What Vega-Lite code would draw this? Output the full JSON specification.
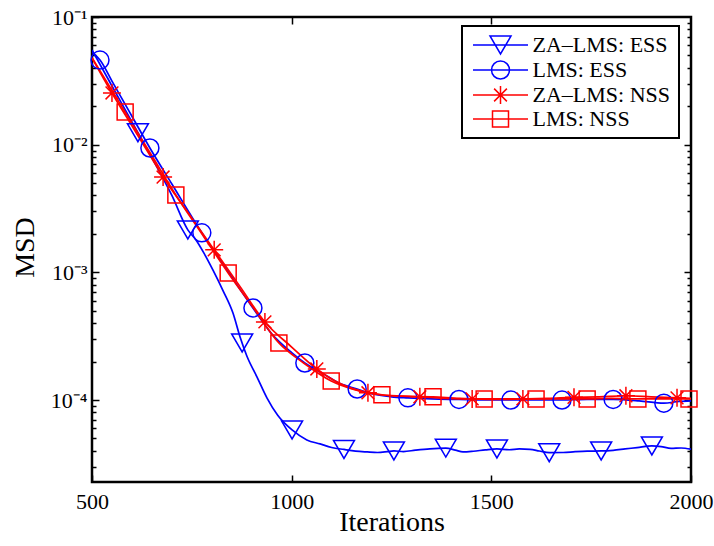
{
  "$schema": "https://vega.github.io/schema/vega-lite/v6.json",
  "width": 599,
  "height": 465,
  "autosize": {"type": "none"},
  "padding": {"left": 92, "top": 17, "right": 23, "bottom": 64},
  "background": "white",
  "config": {
    "font": "Liberation Serif",
    "view": {"stroke": "black", "strokeWidth": 2.5},
    "axis": {"grid": false, "domain": false, "tickColor": "black", "tickWidth": 1.5, "labelColor": "black", "titleColor": "black", "labelFont": "Liberation Serif", "titleFont": "Liberation Serif", "labelFlush": false, "labelOverlap": false, "titleFontWeight": "normal"},
    "legend": {"title": null, "orient": "none", "legendX": 370, "legendY": 9, "labelFontSize": 22, "labelFont": "Liberation Serif", "labelColor": "black", "symbolSize": 400, "symbolStrokeWidth": 1.5, "rowPadding": 1, "padding": 8, "labelOffset": 21, "symbolOffset": 19.5, "strokeColor": "black", "fillColor": "white", "strokeWidth": 2}
  },
  "datasets": {
    "curves": [
      {"s": "ZA–LMS: ESS", "x": 500, "y": 0.0552},
      {"s": "ZA–LMS: ESS", "x": 550, "y": 0.0288},
      {"s": "ZA–LMS: ESS", "x": 600, "y": 0.0151},
      {"s": "ZA–LMS: ESS", "x": 615, "y": 0.0124},
      {"s": "ZA–LMS: ESS", "x": 650, "y": 0.0079},
      {"s": "ZA–LMS: ESS", "x": 700, "y": 0.004},
      {"s": "ZA–LMS: ESS", "x": 740, "y": 0.00215},
      {"s": "ZA–LMS: ESS", "x": 760, "y": 0.0018},
      {"s": "ZA–LMS: ESS", "x": 780, "y": 0.00142},
      {"s": "ZA–LMS: ESS", "x": 803, "y": 0.00104},
      {"s": "ZA–LMS: ESS", "x": 828, "y": 0.00072},
      {"s": "ZA–LMS: ESS", "x": 853, "y": 0.00048},
      {"s": "ZA–LMS: ESS", "x": 871, "y": 0.00031},
      {"s": "ZA–LMS: ESS", "x": 888, "y": 0.00022},
      {"s": "ZA–LMS: ESS", "x": 913, "y": 0.000152},
      {"s": "ZA–LMS: ESS", "x": 938, "y": 0.000104},
      {"s": "ZA–LMS: ESS", "x": 965, "y": 0.000076},
      {"s": "ZA–LMS: ESS", "x": 1001, "y": 0.0000583},
      {"s": "ZA–LMS: ESS", "x": 1038, "y": 0.0000487},
      {"s": "ZA–LMS: ESS", "x": 1071, "y": 0.0000453},
      {"s": "ZA–LMS: ESS", "x": 1100, "y": 0.0000425},
      {"s": "ZA–LMS: ESS", "x": 1131, "y": 0.000041},
      {"s": "ZA–LMS: ESS", "x": 1160, "y": 0.0000398},
      {"s": "ZA–LMS: ESS", "x": 1189, "y": 0.0000392},
      {"s": "ZA–LMS: ESS", "x": 1215, "y": 0.0000388},
      {"s": "ZA–LMS: ESS", "x": 1240, "y": 0.0000394},
      {"s": "ZA–LMS: ESS", "x": 1256, "y": 0.0000399},
      {"s": "ZA–LMS: ESS", "x": 1280, "y": 0.0000395},
      {"s": "ZA–LMS: ESS", "x": 1310, "y": 0.0000405},
      {"s": "ZA–LMS: ESS", "x": 1346, "y": 0.0000415},
      {"s": "ZA–LMS: ESS", "x": 1386, "y": 0.000042},
      {"s": "ZA–LMS: ESS", "x": 1410, "y": 0.0000405},
      {"s": "ZA–LMS: ESS", "x": 1429, "y": 0.0000392},
      {"s": "ZA–LMS: ESS", "x": 1455, "y": 0.0000397},
      {"s": "ZA–LMS: ESS", "x": 1485, "y": 0.0000407},
      {"s": "ZA–LMS: ESS", "x": 1514, "y": 0.0000414},
      {"s": "ZA–LMS: ESS", "x": 1545, "y": 0.0000408},
      {"s": "ZA–LMS: ESS", "x": 1570, "y": 0.0000414},
      {"s": "ZA–LMS: ESS", "x": 1597, "y": 0.0000411},
      {"s": "ZA–LMS: ESS", "x": 1620, "y": 0.0000399},
      {"s": "ZA–LMS: ESS", "x": 1645, "y": 0.0000387},
      {"s": "ZA–LMS: ESS", "x": 1680, "y": 0.0000388},
      {"s": "ZA–LMS: ESS", "x": 1710, "y": 0.0000394},
      {"s": "ZA–LMS: ESS", "x": 1740, "y": 0.0000398},
      {"s": "ZA–LMS: ESS", "x": 1775, "y": 0.0000399},
      {"s": "ZA–LMS: ESS", "x": 1805, "y": 0.0000404},
      {"s": "ZA–LMS: ESS", "x": 1835, "y": 0.0000414},
      {"s": "ZA–LMS: ESS", "x": 1865, "y": 0.0000424},
      {"s": "ZA–LMS: ESS", "x": 1902, "y": 0.0000437},
      {"s": "ZA–LMS: ESS", "x": 1925, "y": 0.0000432},
      {"s": "ZA–LMS: ESS", "x": 1950, "y": 0.0000418},
      {"s": "ZA–LMS: ESS", "x": 1975, "y": 0.0000421},
      {"s": "ZA–LMS: ESS", "x": 2000, "y": 0.0000412},
      {"s": "LMS: ESS", "x": 500, "y": 0.053},
      {"s": "LMS: ESS", "x": 520, "y": 0.046},
      {"s": "LMS: ESS", "x": 550, "y": 0.0315},
      {"s": "LMS: ESS", "x": 600, "y": 0.0167},
      {"s": "LMS: ESS", "x": 645, "y": 0.00942},
      {"s": "LMS: ESS", "x": 700, "y": 0.00492},
      {"s": "LMS: ESS", "x": 775, "y": 0.00204},
      {"s": "LMS: ESS", "x": 850, "y": 0.00092},
      {"s": "LMS: ESS", "x": 903, "y": 0.000526},
      {"s": "LMS: ESS", "x": 950, "y": 0.00033},
      {"s": "LMS: ESS", "x": 1000, "y": 0.000235},
      {"s": "LMS: ESS", "x": 1033, "y": 0.000195},
      {"s": "LMS: ESS", "x": 1080, "y": 0.00016},
      {"s": "LMS: ESS", "x": 1120, "y": 0.000135},
      {"s": "LMS: ESS", "x": 1164, "y": 0.000122},
      {"s": "LMS: ESS", "x": 1200, "y": 0.000112},
      {"s": "LMS: ESS", "x": 1250, "y": 0.000106},
      {"s": "LMS: ESS", "x": 1291, "y": 0.000104},
      {"s": "LMS: ESS", "x": 1350, "y": 0.000102},
      {"s": "LMS: ESS", "x": 1419, "y": 0.000101},
      {"s": "LMS: ESS", "x": 1480, "y": 0.0001},
      {"s": "LMS: ESS", "x": 1549, "y": 0.0001},
      {"s": "LMS: ESS", "x": 1600, "y": 0.0001},
      {"s": "LMS: ESS", "x": 1677, "y": 0.0001},
      {"s": "LMS: ESS", "x": 1740, "y": 0.000101},
      {"s": "LMS: ESS", "x": 1805, "y": 0.000101},
      {"s": "LMS: ESS", "x": 1870, "y": 0.0000985},
      {"s": "LMS: ESS", "x": 1932, "y": 0.0000945},
      {"s": "LMS: ESS", "x": 1970, "y": 0.0000975},
      {"s": "LMS: ESS", "x": 2000, "y": 0.0000985},
      {"s": "ZA–LMS: NSS", "x": 500, "y": 0.0478},
      {"s": "ZA–LMS: NSS", "x": 550, "y": 0.0254},
      {"s": "ZA–LMS: NSS", "x": 600, "y": 0.01406},
      {"s": "ZA–LMS: NSS", "x": 650, "y": 0.00778},
      {"s": "ZA–LMS: NSS", "x": 678, "y": 0.00558},
      {"s": "ZA–LMS: NSS", "x": 740, "y": 0.00295},
      {"s": "ZA–LMS: NSS", "x": 806, "y": 0.0015},
      {"s": "ZA–LMS: NSS", "x": 870, "y": 0.00078},
      {"s": "ZA–LMS: NSS", "x": 933, "y": 0.000409},
      {"s": "ZA–LMS: NSS", "x": 1000, "y": 0.00026},
      {"s": "ZA–LMS: NSS", "x": 1063, "y": 0.000175},
      {"s": "ZA–LMS: NSS", "x": 1120, "y": 0.000135},
      {"s": "ZA–LMS: NSS", "x": 1191, "y": 0.000114},
      {"s": "ZA–LMS: NSS", "x": 1250, "y": 0.000108},
      {"s": "ZA–LMS: NSS", "x": 1321, "y": 0.000106},
      {"s": "ZA–LMS: NSS", "x": 1380, "y": 0.000103},
      {"s": "ZA–LMS: NSS", "x": 1452, "y": 0.000102},
      {"s": "ZA–LMS: NSS", "x": 1520, "y": 0.000101},
      {"s": "ZA–LMS: NSS", "x": 1579, "y": 0.000102},
      {"s": "ZA–LMS: NSS", "x": 1640, "y": 0.000103},
      {"s": "ZA–LMS: NSS", "x": 1707, "y": 0.000105},
      {"s": "ZA–LMS: NSS", "x": 1770, "y": 0.000106},
      {"s": "ZA–LMS: NSS", "x": 1837, "y": 0.000108},
      {"s": "ZA–LMS: NSS", "x": 1900, "y": 0.000106},
      {"s": "ZA–LMS: NSS", "x": 1965, "y": 0.000104},
      {"s": "ZA–LMS: NSS", "x": 2000, "y": 0.000103},
      {"s": "LMS: NSS", "x": 500, "y": 0.048},
      {"s": "LMS: NSS", "x": 550, "y": 0.0266},
      {"s": "LMS: NSS", "x": 583, "y": 0.01803},
      {"s": "LMS: NSS", "x": 650, "y": 0.00819},
      {"s": "LMS: NSS", "x": 710, "y": 0.00404},
      {"s": "LMS: NSS", "x": 780, "y": 0.0019},
      {"s": "LMS: NSS", "x": 841, "y": 0.00099},
      {"s": "LMS: NSS", "x": 900, "y": 0.00055},
      {"s": "LMS: NSS", "x": 968, "y": 0.00028},
      {"s": "LMS: NSS", "x": 1030, "y": 0.000195},
      {"s": "LMS: NSS", "x": 1099, "y": 0.000141},
      {"s": "LMS: NSS", "x": 1160, "y": 0.00012},
      {"s": "LMS: NSS", "x": 1226, "y": 0.00011},
      {"s": "LMS: NSS", "x": 1290, "y": 0.000107},
      {"s": "LMS: NSS", "x": 1354, "y": 0.000106},
      {"s": "LMS: NSS", "x": 1420, "y": 0.000103},
      {"s": "LMS: NSS", "x": 1482, "y": 0.000102},
      {"s": "LMS: NSS", "x": 1550, "y": 0.000102},
      {"s": "LMS: NSS", "x": 1612, "y": 0.000102},
      {"s": "LMS: NSS", "x": 1680, "y": 0.000102},
      {"s": "LMS: NSS", "x": 1740, "y": 0.000102},
      {"s": "LMS: NSS", "x": 1800, "y": 0.000103},
      {"s": "LMS: NSS", "x": 1867, "y": 0.000102},
      {"s": "LMS: NSS", "x": 1930, "y": 0.000102},
      {"s": "LMS: NSS", "x": 2000, "y": 0.000102}
    ],
    "markers": [
      {"s": "ZA–LMS: ESS", "x": 615, "y": 0.0124},
      {"s": "ZA–LMS: ESS", "x": 740, "y": 0.00215},
      {"s": "ZA–LMS: ESS", "x": 876, "y": 0.00028},
      {"s": "ZA–LMS: ESS", "x": 1001, "y": 0.0000583},
      {"s": "ZA–LMS: ESS", "x": 1131, "y": 0.000041},
      {"s": "ZA–LMS: ESS", "x": 1256, "y": 0.0000399},
      {"s": "ZA–LMS: ESS", "x": 1386, "y": 0.000042},
      {"s": "ZA–LMS: ESS", "x": 1514, "y": 0.0000414},
      {"s": "ZA–LMS: ESS", "x": 1645, "y": 0.0000387},
      {"s": "ZA–LMS: ESS", "x": 1775, "y": 0.0000399},
      {"s": "ZA–LMS: ESS", "x": 1902, "y": 0.0000437},
      {"s": "LMS: ESS", "x": 520, "y": 0.046},
      {"s": "LMS: ESS", "x": 645, "y": 0.00942},
      {"s": "LMS: ESS", "x": 775, "y": 0.00204},
      {"s": "LMS: ESS", "x": 903, "y": 0.000526},
      {"s": "LMS: ESS", "x": 1033, "y": 0.000195},
      {"s": "LMS: ESS", "x": 1164, "y": 0.000122},
      {"s": "LMS: ESS", "x": 1291, "y": 0.000104},
      {"s": "LMS: ESS", "x": 1419, "y": 0.000101},
      {"s": "LMS: ESS", "x": 1549, "y": 0.0001},
      {"s": "LMS: ESS", "x": 1677, "y": 0.0001},
      {"s": "LMS: ESS", "x": 1805, "y": 0.000101},
      {"s": "LMS: ESS", "x": 1932, "y": 0.0000945},
      {"s": "ZA–LMS: NSS", "x": 550, "y": 0.0254},
      {"s": "ZA–LMS: NSS", "x": 678, "y": 0.00558},
      {"s": "ZA–LMS: NSS", "x": 806, "y": 0.0015},
      {"s": "ZA–LMS: NSS", "x": 933, "y": 0.000409},
      {"s": "ZA–LMS: NSS", "x": 1063, "y": 0.000175},
      {"s": "ZA–LMS: NSS", "x": 1191, "y": 0.000114},
      {"s": "ZA–LMS: NSS", "x": 1321, "y": 0.000106},
      {"s": "ZA–LMS: NSS", "x": 1452, "y": 0.000102},
      {"s": "ZA–LMS: NSS", "x": 1579, "y": 0.000102},
      {"s": "ZA–LMS: NSS", "x": 1707, "y": 0.000105},
      {"s": "ZA–LMS: NSS", "x": 1837, "y": 0.000108},
      {"s": "ZA–LMS: NSS", "x": 1965, "y": 0.000104},
      {"s": "LMS: NSS", "x": 583, "y": 0.01803},
      {"s": "LMS: NSS", "x": 710, "y": 0.00404},
      {"s": "LMS: NSS", "x": 841, "y": 0.00099},
      {"s": "LMS: NSS", "x": 968, "y": 0.00028},
      {"s": "LMS: NSS", "x": 1099, "y": 0.000141},
      {"s": "LMS: NSS", "x": 1226, "y": 0.00011},
      {"s": "LMS: NSS", "x": 1354, "y": 0.000106},
      {"s": "LMS: NSS", "x": 1482, "y": 0.000102},
      {"s": "LMS: NSS", "x": 1612, "y": 0.000102},
      {"s": "LMS: NSS", "x": 1740, "y": 0.000102},
      {"s": "LMS: NSS", "x": 1867, "y": 0.000102},
      {"s": "LMS: NSS", "x": 1995, "y": 0.000102}
    ]
  },
  "layer": [
    {
      "data": {"name": "curves"},
      "mark": {"type": "line", "strokeWidth": 1.7, "interpolate": "monotone", "clip": true},
      "encoding": {
        "x": {"field": "x", "type": "quantitative", "scale": {"domain": [500, 2000], "nice": false, "zero": false},
          "axis": {"orient": "bottom", "values": [500, 1000, 1500, 2000], "format": "d", "tickSize": -7, "labelPadding": 16, "labelFontSize": 22, "title": "Iterations", "titleFontSize": 28, "titleX": 299.5, "titleY": 40, "titleAlign": "center", "titleBaseline": "middle"}},
        "y": {"field": "y", "type": "quantitative", "scale": {"type": "log", "domain": [0.0000228, 0.1], "nice": false, "zero": false},
          "axis": {"orient": "left",
            "values": [0.00003, 0.00004, 0.00005, 0.00006, 0.00007, 0.00008, 0.00009, 0.0001, 0.0002, 0.0003, 0.0004, 0.0005, 0.0006, 0.0007, 0.0008, 0.0009, 0.001, 0.002, 0.003, 0.004, 0.005, 0.006, 0.007, 0.008, 0.009, 0.01, 0.02, 0.03, 0.04, 0.05, 0.06, 0.07, 0.08, 0.09, 0.1],
            "labelExpr": "datum.value == 0.1 ? '10⁻¹' : datum.value == 0.01 ? '10⁻²' : datum.value == 0.001 ? '10⁻³' : datum.value == 0.0001 ? '10⁻⁴' : ''",
            "tickSize": {"condition": {"test": "datum.value == 0.1 || datum.value == 0.01 || datum.value == 0.001 || datum.value == 0.0001", "value": -7}, "value": -4},
            "labelPadding": 12, "labelFontSize": 22, "labelBaseline": "middle",
            "title": "MSD", "titleFontSize": 28, "titleAngle": -90, "titleX": -67, "titleY": 230, "titleAlign": "center", "titleBaseline": "middle"}},
        "color": {"field": "s", "type": "nominal", "scale": {"domain": ["ZA–LMS: ESS", "LMS: ESS", "ZA–LMS: NSS", "LMS: NSS"], "range": ["#0000ff", "#0000ff", "#ff0000", "#ff0000"]}, "legend": null}
      }
    },
    {
      "data": {"name": "markers"},
      "mark": {"type": "point", "filled": false, "strokeWidth": 1.5, "size": 400, "opacity": 1, "clip": false},
      "encoding": {
        "x": {"field": "x", "type": "quantitative",
          "axis": {"orient": "top", "values": [1000, 1500], "tickSize": -7, "labels": false, "title": null}},
        "y": {"field": "y", "type": "quantitative",
          "axis": {"orient": "right",
            "values": [0.00003, 0.00004, 0.00005, 0.00006, 0.00007, 0.00008, 0.00009, 0.0001, 0.0002, 0.0003, 0.0004, 0.0005, 0.0006, 0.0007, 0.0008, 0.0009, 0.001, 0.002, 0.003, 0.004, 0.005, 0.006, 0.007, 0.008, 0.009, 0.01, 0.02, 0.03, 0.04, 0.05, 0.06, 0.07, 0.08, 0.09],
            "tickSize": {"condition": {"test": "datum.value == 0.01 || datum.value == 0.001 || datum.value == 0.0001", "value": -7}, "value": -4},
            "labels": false, "title": null}},
        "color": {"field": "s", "type": "nominal", "legend": null},
        "shape": {"field": "s", "type": "nominal", "scale": {"domain": ["ZA–LMS: ESS", "LMS: ESS", "ZA–LMS: NSS", "LMS: NSS"], "range": ["M-1.05,-0.9L1.05,-0.9L0,0.9Z", "M-0.9,0A0.9,0.9,0,1,0,0.9,0A0.9,0.9,0,1,0,-0.9,0Z", "M0,-0.9L0,0.9M-0.9,0L0.9,0M-0.64,-0.64L0.64,0.64M-0.64,0.64L0.64,-0.64", "M-0.8,-0.8L0.8,-0.8L0.8,0.8L-0.8,0.8Z"]}, "legend": null}
      }
    },
    {
      "data": {"name": "markers"},
      "transform": [{"filter": "false"}],
      "mark": {"type": "point", "filled": false, "strokeWidth": 1.5, "size": 400, "opacity": 1},
      "encoding": {
        "color": {"field": "s", "type": "nominal"},
        "shape": {"field": "s", "type": "nominal", "scale": {"domain": ["ZA–LMS: ESS", "LMS: ESS", "ZA–LMS: NSS", "LMS: NSS"], "range": ["M-2.75,0L2.75,0M-1.05,-0.9L1.05,-0.9L0,0.9Z", "M-2.75,0L2.75,0M-0.9,0A0.9,0.9,0,1,0,0.9,0A0.9,0.9,0,1,0,-0.9,0Z", "M-2.75,0L2.75,0M0,-0.9L0,0.9M-0.9,0L0.9,0M-0.64,-0.64L0.64,0.64M-0.64,0.64L0.64,-0.64", "M-2.75,0L2.75,0M-0.8,-0.8L0.8,-0.8L0.8,0.8L-0.8,0.8Z"]}}
      }
    }
  ],
  "resolve": {"axis": {"x": "independent", "y": "independent"}, "scale": {"shape": "independent"}, "legend": {"color": "independent", "shape": "independent"}}
}
